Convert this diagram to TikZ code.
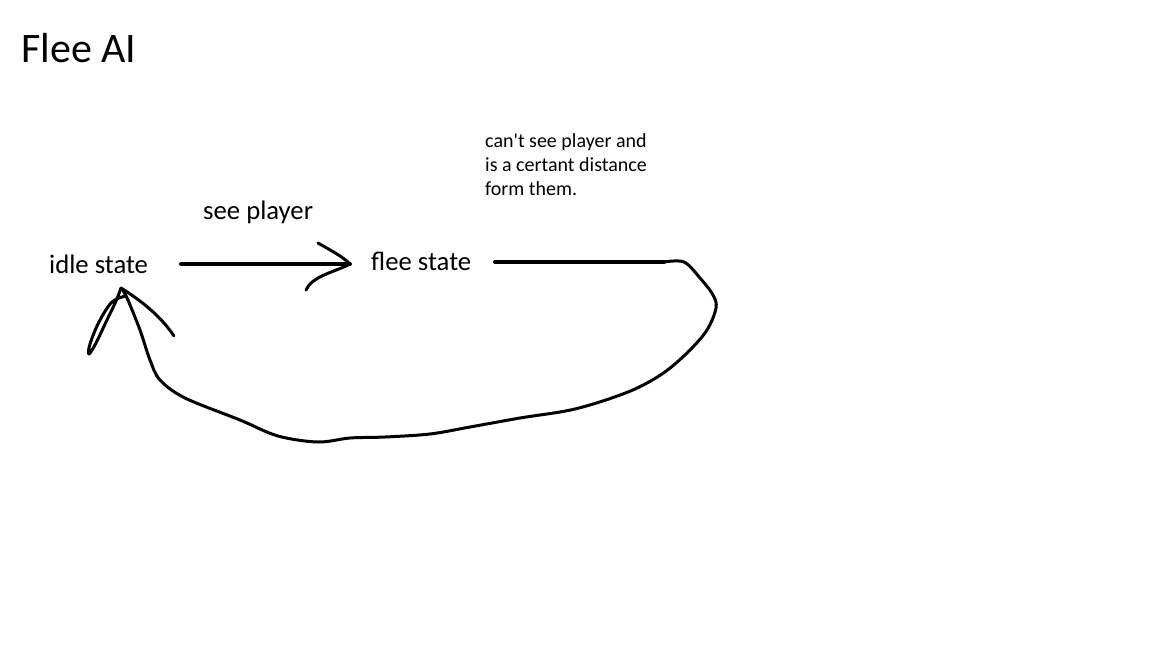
\documentclass[tikz,border=0pt]{standalone}
\usepackage{fontspec}
\setmainfont{Carlito}
\begin{document}
\begin{tikzpicture}[x=1pt,y=-1pt,
  lbl/.style={anchor=base west,inner sep=0pt,font=\fontsize{26.7}{30}\selectfont},
  small/.style={anchor=base west,inner sep=0pt,align=left,font=\fontsize{20}{24}\selectfont},
  pen/.style={line width=3pt,line cap=round,line join=round},
  thick pen/.style={line width=4pt,line cap=round}]
\useasboundingbox[fill=white] (0,0) rectangle (1152,648);
\node[anchor=base west,inner sep=0pt,font=\fontsize{42}{48}\selectfont] (title) at (21,62) {Flee AI};
\node[lbl] (idle) at (49,273) {idle state};
\node[lbl] (see) at (203,219) {see player};
\node[lbl] (flee) at (371,270) {flee state};
\node[small] (cond) at (485,195) {can\textquotesingle t see player and\\is a certant distance\\form them.};
% first arrow
\coordinate (a1) at (181,264);
\coordinate (a2) at (350,264);
\draw[thick pen] (a1) -- (a2);
\draw[pen] (318,243) .. controls (330,250) and (342,256) .. (a2)
  .. controls (335,272) and (312,276) .. (306,290);
% return arrow
\coordinate (b1) at (495,262);
\coordinate (b2) at (664,262);
\draw[thick pen] (b1) -- (b2);
\draw[pen] plot[smooth,tension=0.55] coordinates {(b2) (684,262) (700,278) (713,295) (716,308)
  (707,330) (688,352) (662,374) (628,392) (575,409) (520,418) (470,427) (430,434) (385,437)
  (350,438) (318,442) (278,436) (240,420) (185,398) (160,380) (150,360) (140,330) (128,300)};
\coordinate (tip) at (121,288);
\draw[pen] (128,300) .. controls (124,292) and (122,288) .. (tip)
  .. controls (140,300) and (160,315) .. (174,336);
\draw[pen] plot[smooth,tension=0.6] coordinates {(126,296) (112,302) (99,322) (90,344) (89,354)
  (96,343) (106,322) (116,301) (tip)};
\end{tikzpicture}
\end{document}
